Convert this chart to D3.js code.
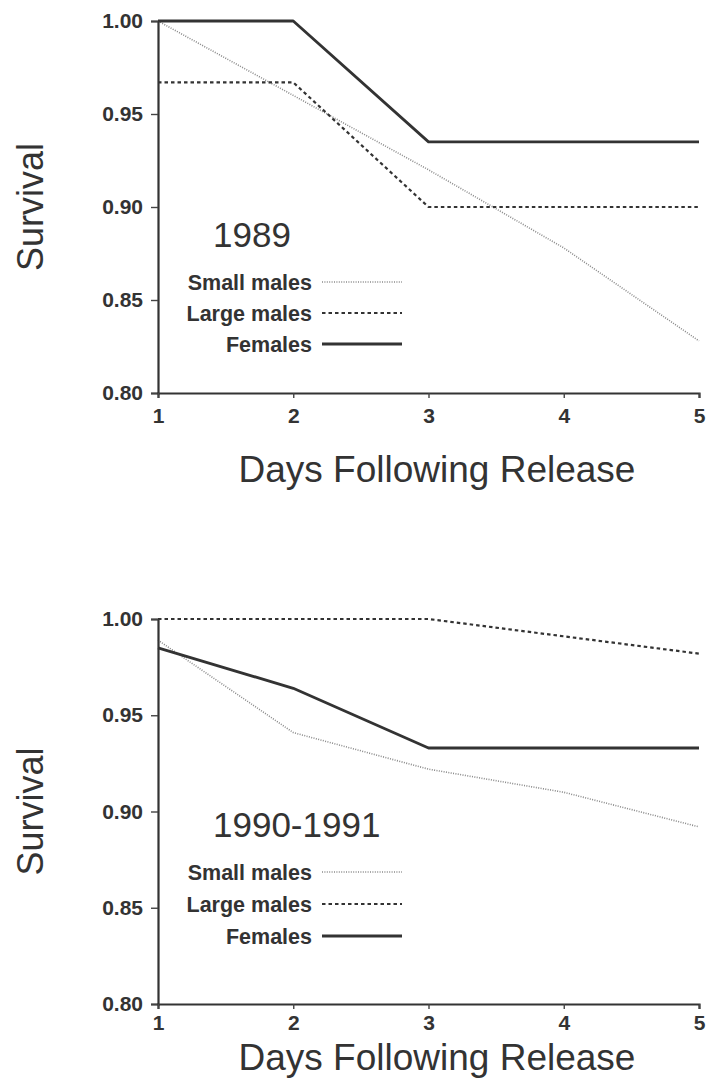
<!DOCTYPE html>
<html>
<head>
<meta charset="utf-8">
<script src="https://cdn.jsdelivr.net/npm/d3@7"></script>
<style>
  body { margin: 0; background: #fff; }
  svg { display: block; }
  text { font-family: "Liberation Sans", Arial, Helvetica, sans-serif; fill: #333; }
</style>
</head>
<body>
<div id="chart"></div>
<script>
// data
var days = [1, 2, 3, 4, 5];
var yTicks = [0.80, 0.85, 0.90, 0.95, 1.00];
var seriesNames = ['Small males', 'Large males', 'Females'];

var small1989 = [1.000, 0.960, 0.920, 0.878, 0.828];
var large1989 = [0.967, 0.967, 0.900, 0.900, 0.900];
var fem1989   = [1.000, 1.000, 0.935, 0.935, 0.935];

var small9091 = [0.989, 0.941, 0.922, 0.910, 0.892];
var large9091 = [1.000, 1.000, 1.000, 0.991, 0.982];
var fem9091   = [0.985, 0.964, 0.933, 0.933, 0.933];

var W = 706, H = 1080;
var X0 = 158, X1 = 699;

// line styles per series
var STYLES = [
    { stroke: '#8a8a8a', width: 1.6, dash: '1,1.4' },
    { stroke: '#333',    width: 2.2, dash: '3.5,3' },
    { stroke: '#333',    width: 2.8, dash: null }
];

var svg = d3.select('#chart').append('svg')
    .attr('width', W)
    .attr('height', H);

svg.append('rect').attr('width', W).attr('height', H).attr('fill', '#fff');

function draw_panel(cfg){
    /*
        one survival panel: axes, three lines, title and legend
     */
    var x = d3.scaleLinear().domain([1, 5]).range([X0, X1]);
    var y = d3.scaleLinear().domain([0.80, 1.00]).range([cfg.bottom, cfg.top]);
    var g = svg.append('g');

    var line = d3.line()
        .x(function(d, i){ return x(days[i]); })
        .y(function(d){ return y(d); });

    // lines
    cfg.series.forEach(function(vals, i){
        var s = STYLES[i];
        g.append('path')
            .datum(vals)
            .attr('d', line)
            .attr('fill', 'none')
            .attr('stroke', s.stroke)
            .attr('stroke-width', s.width)
            .attr('stroke-dasharray', s.dash)
            .attr('stroke-linejoin', 'round');
    });

    // y axis
    var yAxis = g.append('g')
        .attr('transform', 'translate(' + X0 + ',0)')
        .call(d3.axisLeft(y).tickValues(yTicks).tickFormat(d3.format('.2f')).tickSize(7).tickPadding(8));

    // x axis
    var xAxis = g.append('g')
        .attr('transform', 'translate(0,' + cfg.bottom + ')')
        .call(d3.axisBottom(x).tickValues(days).tickFormat(d3.format('d')).tickSize(5).tickPadding(cfg.xPad));

    [yAxis, xAxis].forEach(function(a){
        a.select('.domain').attr('stroke', '#333').attr('stroke-width', 2.2);
        a.selectAll('.tick line').attr('stroke', '#444').attr('stroke-width', 1.4);
        a.selectAll('.tick text')
            .style('font-size', '21px')
            .style('font-weight', 'bold')
            .attr('fill', '#333');
    });
    xAxis.selectAll('.tick text').attr('dy', '0.8em');

    // axis titles
    g.append('text')
        .attr('transform', 'translate(43,' + ((cfg.top + cfg.bottom) / 2) + ')rotate(-90)')
        .attr('text-anchor', 'middle')
        .style('font-size', '36px')
        .text('Survival');

    g.append('text')
        .attr('x', 437)
        .attr('y', cfg.titleY)
        .attr('text-anchor', 'middle')
        .style('font-size', '37px')
        .text('Days Following Release');

    // panel year label
    g.append('text')
        .attr('x', 213)
        .attr('y', cfg.yearY)
        .style('font-size', '35px')
        .text(cfg.year);

    // legend
    seriesNames.forEach(function(name, i){
        var ly = cfg.legendY + i * cfg.legendStep;
        var s = STYLES[i];
        g.append('text')
            .attr('x', 312)
            .attr('y', ly)
            .attr('dy', '0.35em')
            .attr('text-anchor', 'end')
            .style('font-size', '21.5px')
            .style('font-weight', 'bold')
            .text(name);
        g.append('line')
            .attr('x1', 322).attr('x2', 402)
            .attr('y1', ly).attr('y2', ly)
            .attr('stroke', s.stroke)
            .attr('stroke-width', s.width)
            .attr('stroke-dasharray', s.dash);
    });
}

draw_panel({
    top: 21, bottom: 393,
    series: [small1989, large1989, fem1989],
    year: '1989', yearY: 247,
    legendY: 282, legendStep: 31,
    titleY: 482, xPad: 8
});

draw_panel({
    top: 619, bottom: 1004,
    series: [small9091, large9091, fem9091],
    year: '1990-1991', yearY: 837,
    legendY: 872, legendStep: 32,
    titleY: 1070, xPad: 4
});
</script>
</body>
</html>
